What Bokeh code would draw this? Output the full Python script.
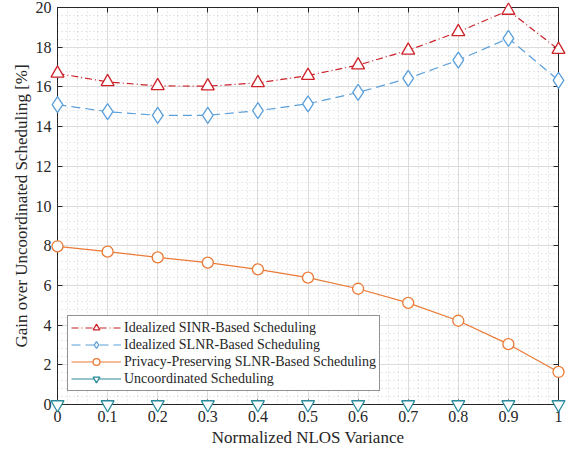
from bokeh.plotting import figure
from bokeh.models import FixedTicker, LinearAxis, Range1d
from bokeh.embed import file_html
from bokeh.resources import INLINE

x = [0, 0.1, 0.2, 0.3, 0.4, 0.5, 0.6, 0.7, 0.8, 0.9, 1.0]
sinr = [16.68, 16.25, 16.05, 16.04, 16.2, 16.57, 17.1, 17.84, 18.77, 19.85, 17.88]
slnr = [15.11, 14.75, 14.57, 14.57, 14.8, 15.15, 15.72, 16.43, 17.35, 18.45, 16.33]
privacy = [7.97, 7.70, 7.41, 7.15, 6.81, 6.39, 5.83, 5.12, 4.22, 3.04, 1.64]
uncoord = [0, 0, 0, 0, 0, 0, 0, 0, 0, 0, 0]

x_ticks = [0, 0.1, 0.2, 0.3, 0.4, 0.5, 0.6, 0.7, 0.8, 0.9, 1]
x_tick_labels = ["0", "0.1", "0.2", "0.3", "0.4", "0.5", "0.6", "0.7", "0.8", "0.9", "1"]
y_ticks = [0, 2, 4, 6, 8, 10, 12, 14, 16, 18, 20]

names = ["Idealized SINR-Based Scheduling",
         "Idealized SLNR-Based Scheduling",
         "Privacy-Preserving SLNR-Based Scheduling",
         "Uncoordinated Scheduling"]

FONT = "Liberation Serif"
AX = "#262626"

p = figure(width=571, height=450, output_backend="svg", toolbar_location=None,
           x_range=Range1d(0, 1), y_range=Range1d(0, 20),
           min_border_left=57, min_border_right=13, min_border_top=7, min_border_bottom=46)
p.background_fill_color = "white"
p.outline_line_color = AX
p.outline_line_width = 1

xminor = [round(i * 0.02, 2) for i in range(51)]
yminor = [round(i * 0.4, 2) for i in range(51)]
xt = FixedTicker(ticks=x_ticks, minor_ticks=xminor)
yt = FixedTicker(ticks=y_ticks, minor_ticks=yminor)

p.xaxis.ticker = xt
p.yaxis.ticker = yt
p.xaxis.major_label_overrides = {t: l for t, l in zip(x_ticks, x_tick_labels)}

for ax in (p.xaxis[0], p.yaxis[0]):
    ax.axis_line_color = AX
    ax.major_tick_in = 5
    ax.major_tick_out = 0
    ax.minor_tick_in = 0
    ax.minor_tick_out = 0
    ax.major_tick_line_color = AX
    ax.major_label_text_font = FONT
    ax.major_label_text_font_size = "16px"
    ax.major_label_text_color = AX
    ax.axis_label_text_font = FONT
    ax.axis_label_text_font_size = "17px"
    ax.axis_label_text_font_style = "normal"
    ax.axis_label_text_color = AX
    ax.major_label_standoff = 6

p.xaxis.axis_label = "Normalized NLOS Variance"
p.yaxis.axis_label = "Gain over Uncoordinated Scheduling [%]"
p.xaxis.axis_label_standoff = 3
p.yaxis.axis_label_standoff = 2

for loc in ("above", "right"):
    a = LinearAxis(ticker=xt if loc == "above" else yt)
    a.major_tick_in = 5
    a.major_tick_out = 0
    a.minor_tick_in = 0
    a.minor_tick_out = 0
    a.major_tick_line_color = AX
    a.axis_line_color = AX
    a.major_label_overrides = {t: "" for t in (x_ticks if loc == "above" else y_ticks)}
    a.major_label_text_font_size = "1px"
    a.major_label_standoff = 0
    p.add_layout(a, loc)

p.xgrid.ticker = xt
p.ygrid.ticker = yt
for g in (p.xgrid[0], p.ygrid[0]):
    g.grid_line_color = "#dcdcdc"
    g.grid_line_width = 1
    g.minor_grid_line_color = "#c8c8c8"
    g.minor_grid_line_dash = "1 3"
    g.minor_grid_line_width = 0.8

red = "#CC2229"
blue = "#5B9FDA"
orange = "#EA7A36"
teal = "#288A9A"
lw = 1.2

p.line(x, sinr, color=red, line_width=lw, line_dash="7 3 1 3", legend_label=names[0])
s1 = p.scatter(x, sinr, marker="triangle", size=13, line_color=red, fill_color="white",
               line_width=1.3, legend_label=names[0])

p.line(x, slnr, color=blue, line_width=lw, line_dash="9 5", legend_label=names[1])
s2 = p.scatter(x, slnr, marker="diamond", size=16, line_color=blue, fill_color="white",
               line_width=1.3, legend_label=names[1])

p.line(x, privacy, color=orange, line_width=lw, legend_label=names[2])
s3 = p.scatter(x, privacy, marker="circle", size=11, line_color=orange, fill_color="white",
               line_width=1.3, legend_label=names[2])

p.line(x, uncoord, color=teal, line_width=lw, legend_label=names[3])
s4 = p.scatter(x, uncoord, marker="inverted_triangle", size=13, line_color=teal, fill_color="white",
               line_width=1.3, legend_label=names[3])

for s in (s1, s2, s3, s4):
    s.level = "overlay"

lg = p.legend[0]
lg.location = (10, 13)
lg.border_line_color = AX
lg.border_line_width = 1
lg.background_fill_color = "white"
lg.background_fill_alpha = 1
lg.label_text_font = FONT
lg.label_text_font_size = "14px"
lg.label_text_color = AX
lg.glyph_width = 50
lg.glyph_height = 17
lg.label_height = 17
lg.label_standoff = 3
lg.spacing = 0
lg.padding = 3
lg.margin = 0

open("out.html", "w").write(file_html(p, INLINE))
